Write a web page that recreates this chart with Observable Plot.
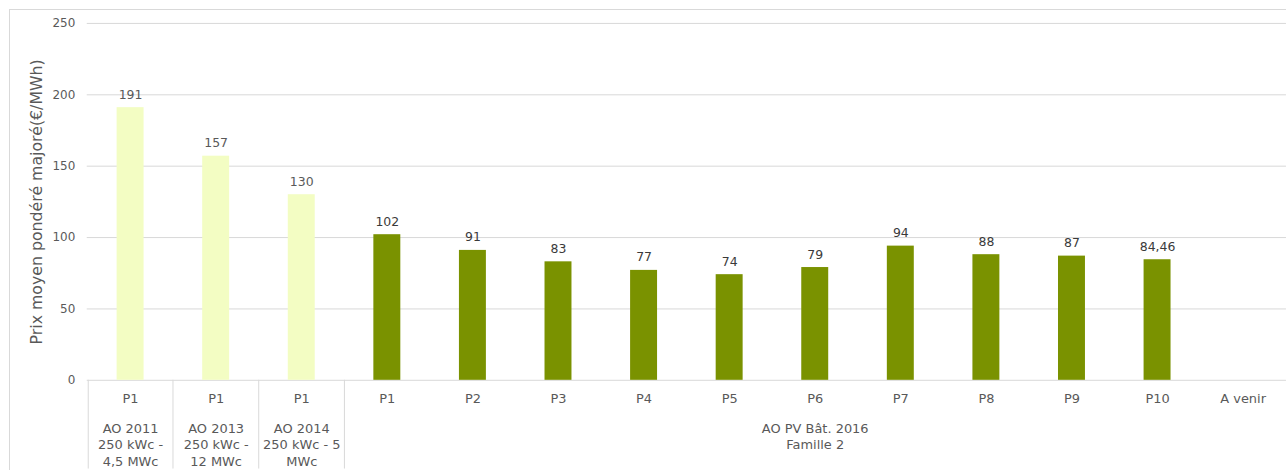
<!DOCTYPE html>
<html><head><meta charset="utf-8">
<script src="https://cdn.jsdelivr.net/npm/d3@7"></script>
<script src="https://cdn.jsdelivr.net/npm/@observablehq/plot@0.6"></script>
<style>
html,body{margin:0;padding:0;background:#fff;overflow:hidden;width:1286px;height:470px;}
#frame{position:absolute;left:9px;top:9px;width:1300px;height:480px;border:1px solid #d9d9d9;box-sizing:border-box;}
#chart{position:absolute;left:0;top:0;}
</style></head><body>
<div id="frame"></div>
<div id="chart"></div>
<script>
// ---- data ----
const periods = ["P1","P1","P1","P1","P2","P3","P4","P5","P6","P7","P8","P9","P10","A venir"];
const values = [191,157,130,102,91,83,77,74,79,94,88,87,84.46,null];
const valueLabels = ["191","157","130","102","91","83","77","74","79","94","88","87","84,46",""];
const kinds = ["ancien","ancien","ancien","2016","2016","2016","2016","2016","2016","2016","2016","2016","2016","2016"];
const groupLabels = ["AO 2011\n250 kWc -\n4,5 MWc","AO 2013\n250 kWc -\n12 MWc","AO 2014\n250 kWc - 5\nMWc","AO PV Bât. 2016\nFamille 2"];
const groupCenters = [0,1,2,8];      // category index at the middle of each group
const groupStarts = [0,1,2,3];       // first category index of each group
const yTicks = [0,50,100,150,200,250];
const yLabel = "Prix moyen pondéré majoré(€/MWh)";

const idx = d3.range(periods.length);
const rows = idx.map(i => ({i, period: periods[i], value: values[i], label: valueLabels[i], kind: kinds[i]}));
const bars = rows.filter(d => d.value != null);

function separators(index, scales, channels, dims) {
  const x = scales.x;
  const step = x.step(), bw = x.bandwidth();
  const g = d3.create("svg:g");
  for (const s of groupStarts) {
    const px = Math.round(x(s) - (step - bw) / 2) + 0.5;
    g.append("line").attr("x1", px).attr("x2", px)
      .attr("y1", dims.height - dims.marginBottom).attr("y2", dims.height)
      .attr("stroke", "#d9d9d9");
  }
  return g.node();
}

const chart = Plot.plot({
  width: 1290, height: 470,
  marginLeft: 87, marginRight: 0, marginTop: 23, marginBottom: 89,
  style: {fontFamily: "DejaVu Sans", fontSize: "12px", color: "#595959", background: "transparent"},
  x: {type: "band", domain: idx, paddingInner: 0.685, paddingOuter: 0.349, round: false, axis: null},
  y: {domain: [0, 250], axis: null},
  color: {domain: ["ancien","2016"], range: ["#f3fdc3","#7a9200"]},
  marks: [
    Plot.gridY(yTicks, {stroke: "#d9d9d9", strokeOpacity: 1}),
    Plot.axisY(yTicks, {tickSize: 0, tickPadding: 12, label: null, fontSize: 12, fill: "#595959"}),
    Plot.barY(bars, {x: "i", y: "value", fill: "kind"}),
    Plot.text(bars, {x: "i", y: "value", text: "label", dy: -13, fontSize: 12.5,
      fill: d => d.kind === "ancien" ? "#595959" : "#3a3a3a"}),
    Plot.axisX({tickSize: 0, tickPadding: 14, tickFormat: i => periods[i], fontSize: 13, fill: "#595959", label: null}),
    Plot.text(groupCenters, {x: d => d, text: (d, j) => groupLabels[j], frameAnchor: "bottom",
      lineAnchor: "top", dy: 41, fontSize: 13, lineHeight: 1.27, fill: "#595959"}),
    Plot.text([yLabel], {text: d => d, frameAnchor: "left", textAnchor: "middle", lineAnchor: "middle",
      rotate: -90, dx: -50, fontSize: 15.8, fill: "#595959", ariaLabel: "ylabel"}),
    separators
  ]
});
document.getElementById("chart").appendChild(chart);

// underline "majoré" in the y label
const t = d3.select(chart).select('g[aria-label="ylabel"] text');
t.text(null);
t.append("tspan").text("Prix moyen pondéré ");
t.append("tspan").attr("text-decoration", "underline").text("majoré");
t.append("tspan").text("(€/MWh)");
</script>
</body></html>
